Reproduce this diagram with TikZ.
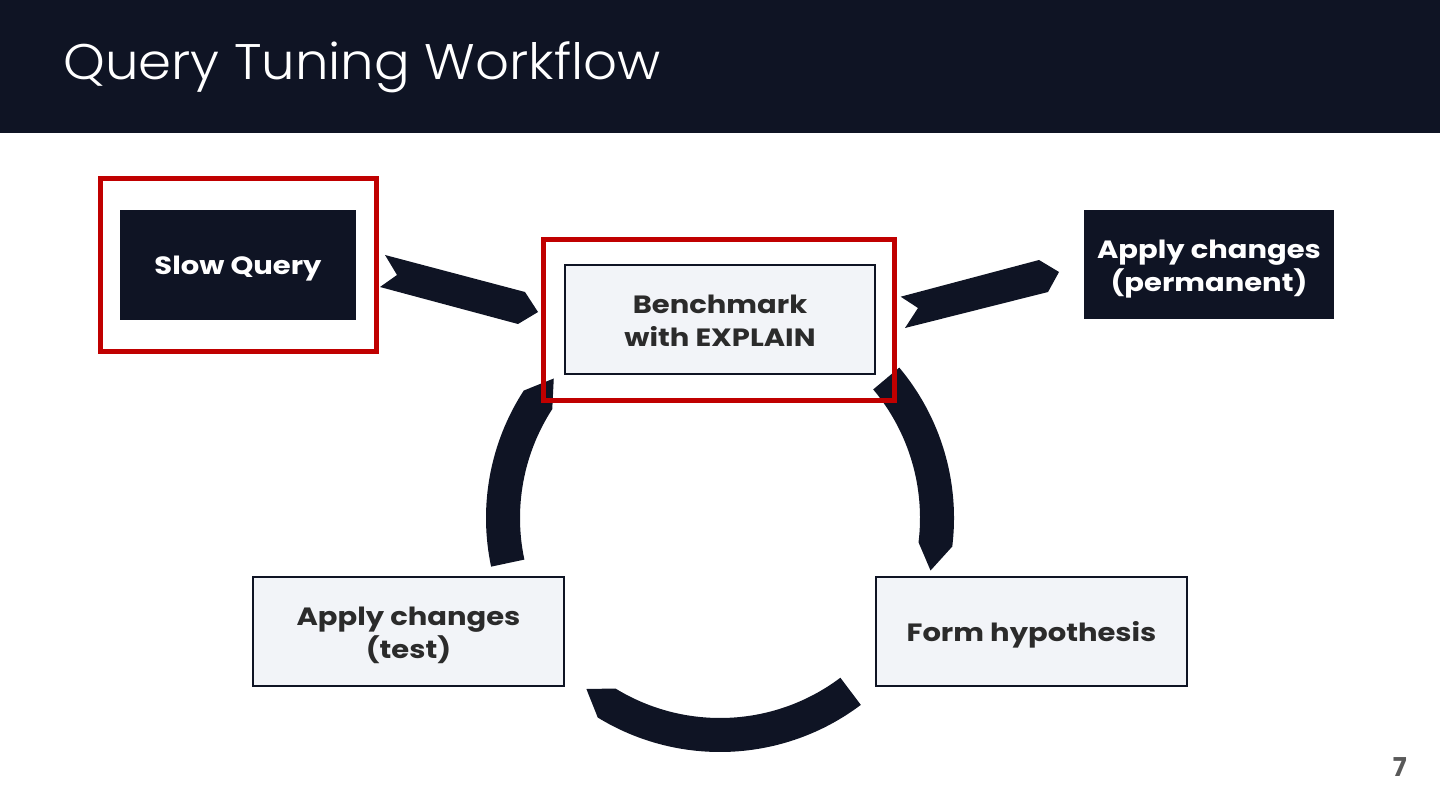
\documentclass[tikz,border=0pt]{standalone}
\usepackage{fontspec}
\setmainfont{Poppins}
\newfontfamily\titlefont{Poppins Light}[FakeStretch=1.06]
\newfontfamily\boxfont{Poppins}[FakeStretch=1.16]
\usetikzlibrary{calc}
\definecolor{navy}{HTML}{0F1424}
\definecolor{boxfill}{HTML}{F2F4F8}
\definecolor{redframe}{HTML}{C00000}
\definecolor{txt}{HTML}{2B2B2B}
\definecolor{pagegray}{HTML}{595959}
\begin{document}
\begin{tikzpicture}[x=1pt,y=-1pt,
  boxtext/.style={font=\boxfont\bfseries\fontsize{25}{33}\selectfont, align=center, inner sep=0pt},
  darkbox/.style={fill=navy, draw=none, inner sep=0pt},
  lightbox/.style={fill=boxfill, draw=navy, line width=1.2pt, inner sep=0pt},
  darktext/.style={boxtext, text=white},
  lighttext/.style={boxtext, text=txt},
  hlframe/.style={draw=redframe, line width=5pt, fill=none, inner sep=0pt},
  band/.style={fill=navy, draw=none}]
\useasboundingbox (0,0) rectangle (1440,810);
% title bar
\fill[navy] (0,0) rectangle (1440,133);
\node[anchor=base west, text=white, font=\titlefont\fontsize{50}{60}\selectfont, inner sep=0pt] (title) at (63,80) {Query Tuning Workflow};
% page number
\node[anchor=base east, text=pagegray, font=\bfseries\fontsize{26}{30}\selectfont, inner sep=0pt] (page) at (1407,776) {7};

% circular arrows
\coordinate (c) at (720,518);
\fill[band] ($(c)+(-40:200)$) arc[start angle=-40, end angle=7, radius=200]
  -- ($(c)+(14:217)$) -- ($(c)+(7:234)$) arc[start angle=7, end angle=-40, radius=234] -- cycle;
\fill[band] ($(c)+(53:200)$) arc[start angle=53, end angle=121.5, radius=200]
  -- ($(c)+(128:217)$) -- ($(c)+(121.5:234)$) arc[start angle=121.5, end angle=53, radius=234] -- cycle;
\fill[band] ($(c)+(168:200)$) arc[start angle=168, end angle=213, radius=200]
  -- ($(c)+(220:217)$) -- ($(c)+(213:234)$) arc[start angle=213, end angle=168, radius=234] -- cycle;

% straight chevron arrows
\fill[band] (385,255) -- (525,292) -- (538,312) -- (518,324) -- (380,287) -- (397,275) -- cycle;
\fill[band] (900.7,296.7) -- (1039,260) -- (1059,272) -- (1048,292) -- (905,328) -- (918,308) -- cycle;

% boxes
\node[darkbox, minimum width=236pt, minimum height=110pt] (slow) at (238,265) {};
\node[lightbox, minimum width=310pt, minimum height=109pt] (bench) at (720,319.5) {};
\node[darkbox, minimum width=250pt, minimum height=109pt] (perm) at (1209,264.5) {};
\node[lightbox, minimum width=311pt, minimum height=109pt] (hyp) at (1031.5,631.5) {};
\node[lightbox, minimum width=311pt, minimum height=109pt] (test) at (408.5,631.5) {};
% box texts
\node[darktext] (slowtxt) at ($(slow.center)+(0,4)$) {Slow Query};
\node[lighttext] (benchtxt) at ($(bench.center)+(0,1.5)$) {Benchmark\\with EXPLAIN};
\node[darktext] (permtxt) at ($(perm.center)+(0,5)$) {Apply changes\\(permanent)};
\node[lighttext] (hyptxt) at ($(hyp.center)+(0,3)$) {Form hypothesis};
\node[lighttext] (testtxt) at ($(test.center)+(0,3.5)$) {Apply changes\\(test)};

% highlight frames
\node[hlframe, minimum width=276pt, minimum height=172pt] (hlslow) at (238,265) {};
\node[hlframe, minimum width=351pt, minimum height=161pt] (hlbench) at (719,320) {};
\end{tikzpicture}
\end{document}
